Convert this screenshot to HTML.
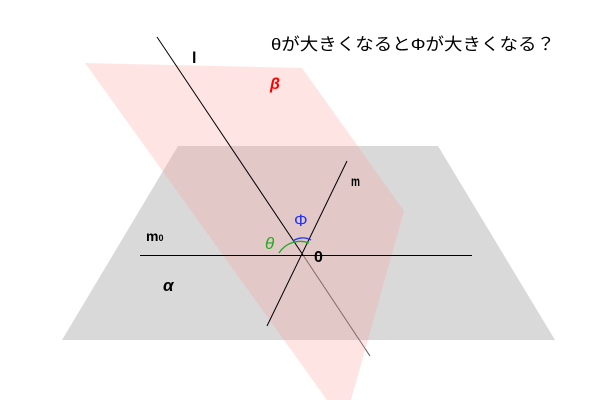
<!DOCTYPE html>
<html><head><meta charset="utf-8"><style>body{margin:0;background:#fff}svg{display:block}</style></head>
<body><svg width="600" height="400" xmlns="http://www.w3.org/2000/svg" font-family="Liberation Sans, Noto Sans CJK JP, sans-serif">
<polygon points="178,146 438,146 555,340 62,340" fill="#d9d9d9"/>
<line x1="303" y1="255" x2="370" y2="356" stroke="#555" stroke-width="1"/>
<polygon points="85,63 302,68 404,211 351,400 327,400" fill="#ff9c9c" fill-opacity="0.27"/>
<line x1="140" y1="255.5" x2="472" y2="255.5" stroke="#000" stroke-width="1"/>
<line x1="157" y1="37" x2="303" y2="255" stroke="#000" stroke-width="1"/>
<line x1="347" y1="161" x2="267" y2="326" stroke="#000" stroke-width="1"/>
<path d="M279,253 A25,25 0 0 1 309,243" fill="none" stroke="#22aa22" stroke-width="1.3"/>
<path d="M293,241 A17,17 0 0 1 311,240" fill="none" stroke="#2233ff" stroke-width="1.3"/>
<text x="271" y="50" font-size="17" fill="#000" textLength="284" lengthAdjust="spacingAndGlyphs">θが大きくなるとΦが大きくなる？</text>
<text x="192" y="63" font-size="16" font-weight="bold">l</text>
<text x="270" y="89" font-size="16" font-weight="bold" font-style="italic" fill="#f00">β</text>
<text x="351" y="186" font-size="14" font-weight="bold" textLength="9" lengthAdjust="spacingAndGlyphs">m</text>
<text x="294" y="226" font-size="17" fill="#2233ff">Φ</text>
<text x="265" y="249" font-size="17" font-style="italic" fill="#22aa22">θ</text>
<text x="314" y="262" font-size="16" font-weight="bold">0</text>
<text x="146" y="241" font-size="14" font-weight="bold">m<tspan font-size="9">0</tspan></text>
<text x="163" y="291" font-size="17" font-weight="bold" font-style="italic">α</text>
</svg></body></html>
